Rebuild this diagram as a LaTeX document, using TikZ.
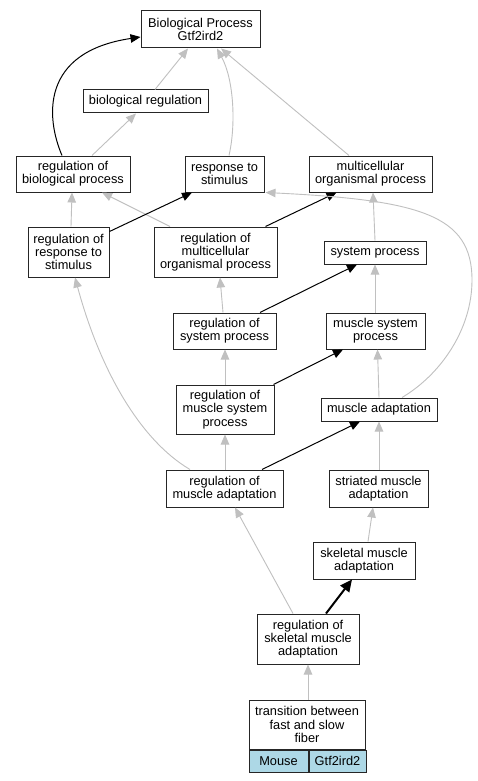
\documentclass[tikz,border=0pt]{standalone}
\usepackage{fontspec}
\setmainfont{Liberation Sans}
\usetikzlibrary{arrows.meta}
\definecolor{edgegray}{RGB}{192,192,192}
\definecolor{cellblue}{RGB}{173,216,230}
\begin{document}
\begin{tikzpicture}[x=1pt,y=-1pt,
  box/.style={draw=black!85,line width=1pt,rectangle,inner sep=0pt,align=center,
    font=\fontsize{12.8}{13.3}\selectfont,fill=white},
  garrow/.style={draw=edgegray,line width=0.9pt,-{Triangle[length=10pt,width=8.5pt,fill=edgegray]}},
  barrow/.style={draw=black,line width=1pt,-{Triangle[length=10pt,width=8.5pt]}},
  bbarrow/.style={draw=black,line width=2pt,-{Triangle[length=12pt,width=11pt]}}]
\useasboundingbox (0,0) rectangle (478,781);
\fill[white] (0,0) rectangle (478,781);
% nodes
\node[box,minimum width=119pt,minimum height=37pt] (BP) at (200.5,29.5) {Biological Process\\Gtf2ird2};
\node[box,minimum width=125pt,minimum height=23pt] (bioreg) at (145.5,101.5) {biological regulation};
\node[box,minimum width=114pt,minimum height=36pt] (regbio) at (73,174) {regulation of\\biological process};
\node[box,minimum width=79pt,minimum height=36pt] (resp) at (224.5,174) {response to\\stimulus};
\node[box,minimum width=123pt,minimum height=36pt] (multi) at (370.5,174) {multicellular\\organismal process};
\node[box,minimum width=81pt,minimum height=50pt] (regresp) at (68.5,252) {regulation of\\response to\\stimulus};
\node[box,minimum width=123pt,minimum height=50pt] (regmulti) at (215.5,252) {regulation of\\multicellular\\organismal process};
\node[box,minimum width=102pt,minimum height=23pt] (sysproc) at (375,252.5) {system process};
\node[box,minimum width=103pt,minimum height=36pt] (regsys) at (224.5,331) {regulation of\\system process};
\node[box,minimum width=99pt,minimum height=36pt] (musclesys) at (375.5,331) {muscle system\\process};
\node[box,minimum width=98pt,minimum height=49pt] (regmusclesys) at (225,409.5) {regulation of\\muscle system\\process};
\node[box,minimum width=116pt,minimum height=23pt] (muscleadapt) at (379,409.5) {muscle adaptation};
\node[box,minimum width=117pt,minimum height=37pt] (regmuscleadapt) at (224.5,488.5) {regulation of\\muscle adaptation};
\node[box,minimum width=99pt,minimum height=37pt] (striated) at (378.5,488.5) {striated muscle\\adaptation};
\node[box,minimum width=102pt,minimum height=37pt] (skeletal) at (364,560.5) {skeletal muscle\\adaptation};
\node[box,minimum width=102pt,minimum height=50pt] (regskel) at (308,639) {regulation of\\skeletal muscle\\adaptation};
\node[box,minimum width=116pt,minimum height=49pt] (transition) at (307,724.5) {transition between\\fast and slow\\fiber};
\node[box,fill=cellblue,minimum width=59pt,minimum height=22pt,anchor=north west] (mouse) at (transition.south west) {Mouse};
\node[box,fill=cellblue,minimum width=57pt,minimum height=22pt,anchor=north west] (gene) at (mouse.north east) {Gtf2ird2};
% edges
\draw[barrow] ([xshift=-11pt]regbio.north) .. controls (46,118) and (40,52) .. ([yshift=-7.5pt]BP.west);
\draw[garrow] ([xshift=9.5pt]bioreg.north) -- ([xshift=-12.5pt]BP.south);
\draw[garrow] ([xshift=4.5pt]resp.north) .. controls (236,125) and (234,80) .. ([xshift=16.5pt]BP.south);
\draw[garrow] ([xshift=-21.5pt]multi.north) -- ([xshift=20.5pt]BP.south);
\draw[garrow] ([xshift=19pt]regbio.north) -- ([xshift=-9.5pt]bioreg.south);
\draw[garrow] ([xshift=2.5pt]regresp.north) -- ([xshift=-1pt]regbio.south);
\draw[garrow] ([xshift=-45.5pt]regmulti.north) -- ([xshift=29pt]regbio.south);
\draw[barrow] ([yshift=-5pt]regresp.north east) -- ([xshift=-32.5pt]resp.south);
\draw[barrow] ([xshift=50pt]regmulti.north) -- ([xshift=-34pt]multi.south);
\draw[garrow] ([xshift=23pt]muscleadapt.north) .. controls (440,375) and (472,330) .. (472,280)
  .. controls (472,215) and (420,200) .. ([xshift=1pt]resp.south east);
\draw[garrow] (sysproc.north) -- ([xshift=2.5pt]multi.south);
\draw[garrow] ([xshift=-1.5pt]regsys.north) -- ([xshift=4.5pt]regmulti.south);
\draw[barrow] ([xshift=35.5pt]regsys.north) -- ([xshift=-18pt]sysproc.south);
\draw[garrow] ([xshift=-0.5pt]musclesys.north) -- (sysproc.south);
\draw[garrow] (regmusclesys.north) -- ([xshift=0.5pt]regsys.south);
\draw[barrow] ([xshift=-1pt]regmusclesys.north east) -- ([xshift=-32.5pt]musclesys.south);
\draw[garrow] (muscleadapt.north) -- ([xshift=2pt]musclesys.south);
\draw[garrow] ([xshift=-34.5pt]regmuscleadapt.north) .. controls (140,440) and (100,370) .. ([xshift=6.5pt]regresp.south);
\draw[garrow] ([xshift=0.5pt]regmuscleadapt.north) -- (regmusclesys.south);
\draw[barrow] ([xshift=37.5pt]regmuscleadapt.north) -- ([xshift=-19pt]muscleadapt.south);
\draw[garrow] ([xshift=0.5pt]striated.north) -- (muscleadapt.south);
\draw[garrow] ([xshift=4pt]skeletal.north) -- ([xshift=-5.5pt]striated.south);
\draw[garrow] ([xshift=-15pt]regskel.north) -- ([xshift=10.5pt]regmuscleadapt.south);
\draw[bbarrow] ([xshift=18pt]regskel.north) -- ([xshift=-12pt]skeletal.south);
\draw[garrow] ([xshift=1pt]transition.north) -- (regskel.south);
\end{tikzpicture}
\end{document}
